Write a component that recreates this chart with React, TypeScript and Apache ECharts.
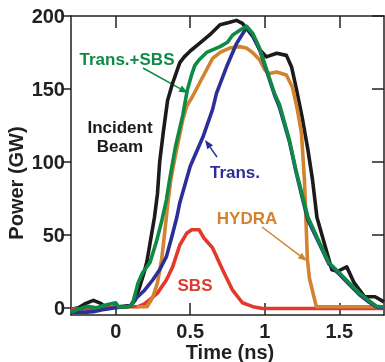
import React, { useEffect, useRef } from "react";
import * as echarts from "echarts";

const xTicks = [0, 0.5, 1, 1.5];
const yTicks = [0, 50, 100, 150, 200];

const incident: [number, number][] = [
  [-0.3, -1], [-0.25, 0], [-0.2, 3], [-0.15, 5], [-0.1, 3], [-0.06, -0.5], [0, 0.5], [0.05, 1], [0.1, 1.5],
  [0.13, 5], [0.16, 14], [0.19, 24], [0.21, 32], [0.24, 50], [0.26, 62], [0.28, 78], [0.295, 100], [0.32, 121],
  [0.348, 142], [0.382, 154], [0.43, 168], [0.46, 172], [0.5, 176], [0.56, 181], [0.63, 187], [0.7, 194],
  [0.76, 195.5], [0.81, 197], [0.85, 195], [0.92, 186], [0.965, 177], [1.01, 172], [1.08, 174.5], [1.145, 173],
  [1.18, 165], [1.21, 151], [1.25, 131], [1.29, 108], [1.32, 88], [1.35, 62], [1.4, 44], [1.45, 26], [1.49, 25],
  [1.55, 28], [1.6, 17], [1.67, 7.5], [1.74, 7.5], [1.8, 4],
];

const transSbs: [number, number][] = [
  [-0.3, -3], [-0.25, -1], [-0.19, 1], [-0.13, 0], [-0.06, 2], [0, 3.4], [0.02, 0.5], [0.08, 0.5], [0.11, 2],
  [0.12, 5.5], [0.15, 17], [0.18, 24], [0.23, 31], [0.275, 46], [0.31, 60], [0.34, 74], [0.362, 88], [0.4, 110],
  [0.45, 132], [0.48, 149], [0.51, 160], [0.53, 166], [0.56, 170], [0.61, 175], [0.7, 179], [0.75, 182],
  [0.785, 187], [0.83, 190], [0.877, 193], [0.92, 188], [0.965, 178], [1.01, 164], [1.065, 147], [1.1, 139],
  [1.165, 115], [1.21, 94], [1.25, 78], [1.29, 62], [1.37, 44], [1.43, 31], [1.5, 24], [1.567, 17], [1.634, 10],
  [1.69, 5.5], [1.75, 1], [1.8, 0.5],
];

const trans: [number, number][] = [
  [-0.3, -3], [-0.2, -3], [-0.15, -2.7], [-0.09, -1.4], [0, 0], [0.05, 0.5], [0.1, 1], [0.115, 4], [0.147, 7.5],
  [0.194, 12], [0.248, 19], [0.295, 26], [0.34, 35], [0.38, 50], [0.41, 62], [0.43, 72], [0.5, 97], [0.585, 117],
  [0.65, 136], [0.676, 147], [0.743, 165], [0.81, 181], [0.88, 192.5], [0.92, 187], [0.965, 177], [1.01, 163],
  [1.065, 146], [1.1, 137], [1.165, 114], [1.21, 93], [1.25, 76], [1.29, 60], [1.37, 43], [1.43, 30], [1.5, 23],
  [1.567, 16], [1.634, 9], [1.69, 4.5], [1.75, 0.5], [1.8, 0],
];

const hydra: [number, number][] = [
  [0.14, 0.7], [0.21, 0.7], [0.248, 7], [0.28, 17], [0.308, 33], [0.328, 51], [0.348, 70], [0.37, 88], [0.4, 104],
  [0.45, 129], [0.476, 138], [0.516, 145], [0.583, 158], [0.65, 171], [0.7, 175], [0.764, 178], [0.83, 179],
  [0.877, 178], [0.918, 175], [0.965, 170], [1.0, 163], [1.03, 160.5], [1.08, 161.6], [1.145, 159.6], [1.186, 151],
  [1.219, 135.6], [1.246, 120], [1.266, 88], [1.28, 50], [1.286, 33], [1.3, 20], [1.346, 0.7], [1.8, 0.7],
];

const sbs: [number, number][] = [
  [-0.3, -1], [-0.2, -0.5], [-0.1, -0.5], [0, 0.5], [0.1, 0.7], [0.15, 0.7], [0.19, 2.5], [0.228, 5.5], [0.28, 10],
  [0.34, 19], [0.382, 28], [0.43, 43], [0.476, 51], [0.51, 53.4], [0.56, 53.4], [0.59, 48], [0.65, 41],
  [0.717, 26], [0.784, 12], [0.85, 3.4], [0.92, 0.7], [0.985, -0.5], [1.8, -0.5],
];

const BLACK = "#1c1a1b";
const GREEN = "#0f8a45";
const BLUE = "#2c2f98";
const ORANGE = "#d3822e";
const RED = "#e13a2d";
const AXIS = "#231f20";
const FONT = "'Liberation Sans', Arial, sans-serif";

function arrow(x1: number, y1: number, x2: number, y2: number, color: string) {
  const dx = x2 - x1, dy = y2 - y1;
  const len = Math.hypot(dx, dy);
  const ux = dx / len, uy = dy / len;
  const hl = 9, hw = 3.5;
  const bx = x2 - ux * hl, by = y2 - uy * hl;
  return {
    type: "group",
    children: [
      { type: "line", shape: { x1, y1, x2: bx, y2: by }, style: { stroke: color, lineWidth: 1.5 } },
      {
        type: "polygon",
        shape: { points: [[x2, y2], [bx - uy * hw, by + ux * hw], [bx + uy * hw, by - ux * hw]] },
        style: { fill: color },
      },
    ],
  };
}

function label(text: string, x: number, y: number, color: string, size = 17) {
  return {
    type: "text",
    x, y,
    style: { text, fill: color, font: `bold ${size}px ${FONT}`, align: "center", verticalAlign: "middle", lineHeight: 19 },
  };
}

export default function App() {
  const ref = useRef<HTMLDivElement>(null);
  useEffect(() => {
    if (!ref.current) return;
    const chart = echarts.init(ref.current, null, { renderer: "svg" });
    const lineSeries = (name: string, data: [number, number][], color: string) => ({
      name, type: "line", data, showSymbol: false, symbol: "none",
      lineStyle: { color, width: 3.6, join: "round" }, itemStyle: { color },
      xAxisIndex: 0, yAxisIndex: 0, z: 2,
    });
    const axisLine = { show: true, onZero: false, lineStyle: { color: AXIS, width: 1.5 } };
    chart.setOption({
      animation: false,
      grid: { left: 71, top: 16, right: 1, bottom: 47, containLabel: false },
      xAxis: [
        {
          type: "value", min: -0.3, max: 1.8, position: "bottom",
          axisLine,
          axisTick: { show: true, inside: true, length: 12, customValues: xTicks, lineStyle: { color: AXIS, width: 1.5 } },
          axisLabel: { customValues: xTicks, margin: 6, color: AXIS, fontSize: 20, fontWeight: "bold", fontFamily: FONT },
          splitLine: { show: false },
        },
        {
          type: "value", min: -0.3, max: 1.8, position: "top",
          axisLine,
          axisTick: { show: true, inside: true, length: 12, customValues: xTicks, lineStyle: { color: AXIS, width: 1.5 } },
          axisLabel: { show: false },
          splitLine: { show: false },
        },
      ],
      yAxis: [
        {
          type: "value", min: -5, max: 200, position: "left",
          axisLine,
          axisTick: { show: true, inside: false, length: 8, customValues: yTicks, lineStyle: { color: AXIS, width: 1.5 } },
          axisLabel: { customValues: yTicks, margin: 6, color: AXIS, fontSize: 20, fontWeight: "bold", fontFamily: FONT },
          splitLine: { show: false },
        },
        {
          type: "value", min: -5, max: 200, position: "right",
          axisLine,
          axisTick: { show: true, inside: true, length: 12, customValues: yTicks, lineStyle: { color: AXIS, width: 1.5 } },
          axisLabel: { show: false },
          splitLine: { show: false },
        },
      ],
      series: [
        lineSeries("Incident Beam", incident, BLACK),
        lineSeries("SBS", sbs, RED),
        lineSeries("HYDRA", hydra, ORANGE),
        lineSeries("Trans.", trans, BLUE),
        lineSeries("Trans.+SBS", transSbs, GREEN),
      ],
      graphic: [
        {
          type: "text", x: 16, y: 183, rotation: Math.PI / 2,
          style: { text: "Power (GW)", fill: AXIS, font: `bold 20px ${FONT}`, align: "center", verticalAlign: "middle" },
        },
        {
          type: "text", x: 230, y: 352,
          style: { text: "Time (ns)", fill: AXIS, font: `bold 20px ${FONT}`, align: "center", verticalAlign: "middle" },
        },
        label("Trans.+SBS", 127, 59, GREEN),
        label("Incident\nBeam", 120, 137, BLACK),
        label("Trans.", 235, 172, BLUE),
        label("HYDRA", 247, 218, ORANGE),
        label("SBS", 195, 285, RED),
        arrow(143, 68, 188, 93, GREEN),
        arrow(217, 157, 205, 140, BLUE),
        arrow(262, 227, 307, 261, ORANGE),
      ],
    });
    return () => chart.dispose();
  }, []);
  return <div ref={ref} style={{ position: "fixed", left: 0, top: 0, width: 385, height: 362 }} />;
}
